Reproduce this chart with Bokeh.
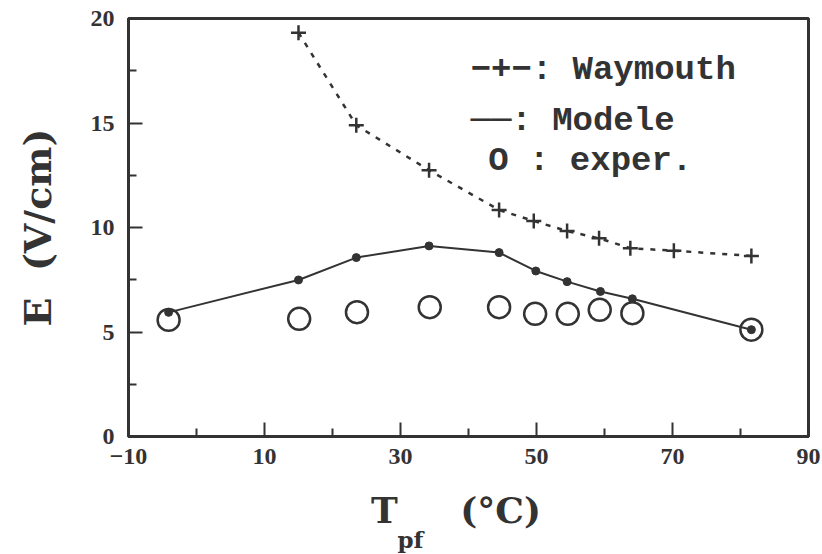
from bokeh.plotting import figure
from bokeh.models import FixedTicker, Label, Title
from bokeh.embed import file_html
from bokeh.resources import INLINE

# ---- data ----
T_model = [-4.1, 15.0, 23.5, 34.2, 44.5, 49.9, 54.5, 59.4, 64.1, 81.6]
E_model = [5.94, 7.49, 8.56, 9.12, 8.80, 7.92, 7.41, 6.94, 6.59, 5.11]

T_exper = [-4.1, 15.1, 23.6, 34.3, 44.5, 49.8, 54.6, 59.3, 64.1, 81.6]
E_exper = [5.58, 5.63, 5.95, 6.19, 6.19, 5.87, 5.87, 6.06, 5.90, 5.11]

T_way = [15.0, 23.5, 34.2, 44.5, 49.6, 54.5, 59.2, 63.8, 70.2, 81.6]
E_way = [19.32, 14.89, 12.74, 10.84, 10.31, 9.83, 9.48, 9.01, 8.89, 8.64]

x_major = [-10, 10, 30, 50, 70, 90]
x_minor = [0, 20, 40, 60, 80]
y_major = [0, 5, 10, 15, 20]
y_minor = [2.5, 7.5, 12.5, 17.5]

legend_texts = ["\u2212+\u2212: Waymouth", "\u2500\u2500: Modele", "O : exper."]

INK = "#333333"
SERIF = "DejaVu Serif"
MONO = "Liberation Mono"
TICKFONT = "Liberation Sans Narrow"
NB = "\u00a0"

p = figure(frame_width=680, frame_height=418,
           min_border_left=128, min_border_right=14,
           min_border_top=18, min_border_bottom=118,
           x_range=(-10, 90), y_range=(0, 20),
           output_backend="svg", toolbar_location=None)

p.background_fill_color = "white"
p.border_fill_color = "white"
p.grid.visible = False
p.outline_line_color = INK
p.outline_line_width = 3

for ax in (p.xaxis[0], p.yaxis[0]):
    ax.axis_line_color = INK
    ax.axis_line_width = 3
    ax.major_tick_line_color = INK
    ax.minor_tick_line_color = INK
    ax.major_tick_line_width = 2
    ax.minor_tick_line_width = 2
    ax.major_tick_in = 14
    ax.major_tick_out = 0
    ax.minor_tick_in = 8
    ax.minor_tick_out = 0
    ax.major_label_text_font = TICKFONT
    ax.major_label_text_font_style = "bold"
    ax.major_label_text_font_size = "24px"
    ax.major_label_text_color = INK

p.xaxis.ticker = FixedTicker(ticks=x_major, minor_ticks=x_minor)
p.yaxis.ticker = FixedTicker(ticks=y_major, minor_ticks=y_minor)
p.xaxis.major_label_overrides = {-10: "\u221210"}
p.xaxis.major_label_standoff = 12
p.yaxis.major_label_standoff = 14

p.yaxis.axis_label = "E" + NB * 2 + "(V/cm)"
p.yaxis.axis_label_text_font = SERIF
p.yaxis.axis_label_text_font_style = "bold"
p.yaxis.axis_label_text_font_size = "38px"
p.yaxis.axis_label_text_color = INK
p.yaxis.axis_label_standoff = 28

p.xaxis.axis_label = "T" + NB * 5 + "(\u00b0C)" + NB * 2
p.xaxis.axis_label_text_font = SERIF
p.xaxis.axis_label_text_font_style = "bold"
p.xaxis.axis_label_text_font_size = "36px"
p.xaxis.axis_label_text_color = INK
p.xaxis.axis_label_standoff = 22

p.add_layout(Title(text="pf", align="left", offset=269, standoff=-20,
                   text_font=SERIF, text_font_style="bold",
                   text_font_size="23px", text_color=INK), "below")

# Waymouth: dashed with + markers
p.line(T_way, E_way, line_color=INK, line_width=2.5, line_dash="5 7")
p.scatter(T_way, E_way, marker="cross", size=15, line_color=INK, line_width=2.5)

# Modele: solid line with dots
p.line(T_model, E_model, line_color=INK, line_width=2)
p.scatter(T_model, E_model, marker="circle", size=8, fill_color=INK, line_color=INK)

# exper: open circles
p.scatter(T_exper, E_exper, marker="circle", size=22, fill_color=None,
          line_color=INK, line_width=2.5)

# legend texts (positions in data units)
leg_pos = [(40.3, 17.52), (40.3, 15.08), (42.9, 13.17)]
for txt, (lx, ly) in zip(legend_texts, leg_pos):
    p.add_layout(Label(x=lx, y=ly, text=txt, text_font=MONO,
                       text_font_style="bold", text_font_size="34px",
                       text_color=INK, text_baseline="alphabetic"))

open("out.html", "w").write(file_html(p, INLINE))
